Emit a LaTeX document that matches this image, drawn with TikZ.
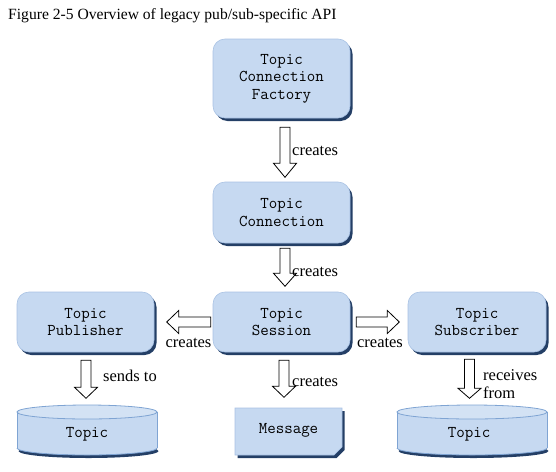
\documentclass[tikz,border=0pt]{standalone}
\usepackage{fontspec}
\setmainfont{Liberation Serif}
\usetikzlibrary{shadows,calc}
\definecolor{boxfill}{HTML}{C6D9F1}
\definecolor{boxline}{HTML}{A9C2E4}
\definecolor{shadowc}{HTML}{243F66}
\definecolor{cylline}{HTML}{7FA4D3}
\definecolor{cyltop}{HTML}{D3E2F4}
\begin{document}
\begin{tikzpicture}[x=1pt,y=-1pt,
  box/.style={rounded corners=12pt, fill=boxfill, draw=boxline, line width=0.6pt,
    minimum width=137pt, inner sep=0pt, align=center,
    font=\ttfamily\fontsize{16.5}{17.5}\selectfont,
    drop shadow={shadow xshift=2.5pt, shadow yshift=-3pt, fill=shadowc, opacity=1}},
  monotext/.style={inner sep=0pt, font=\ttfamily\fontsize{16.5}{17.5}\selectfont},
  lbl/.style={inner sep=0pt, font=\fontsize{16.5}{17}\selectfont},
  blockarr/.style={draw=black, fill=white, line width=0.8pt, line join=miter},
  pics/darr/.style args={#1/#2}{code={
    \draw[blockarr] (-5,0) -- (5,0) -- (5,#1-#2) -- (11.5,#1-#2) -- (0,#1)
      -- (-11.5,#1-#2) -- (-5,#1-#2) -- cycle;}}
]
\useasboundingbox (0,0) rectangle (556,471);

% title
\node[anchor=base west, inner sep=0pt, font=\fontsize{15.6}{17}\selectfont] (title) at (8,19)
  {Figure 2-5 Overview of legacy pub/sub-specific API};

% boxes
\node[box, minimum height=79pt] (tcf) at (281.5,78.5) {Topic\\Connection\\Factory};
\node[box, minimum height=61pt] (tc) at (281.5,212.5) {Topic\\Connection};
\node[box, minimum height=60pt] (ts) at (281.5,322) {Topic\\Session};
\node[box, minimum height=60pt] (tp) at (85.5,322) {Topic\\Publisher};
\node[box, minimum height=60pt, minimum width=138pt] (tsub) at (477,322) {Topic\\Subscriber};

% block arrows
\pic at ($(tcf.south)+(3.5,9)$) {darr=50/14};
\pic at ($(tc.south)+(3.5,5)$) {darr=38/13};
\pic[rotate=-90] at ($(ts.west)+(-2,0)$) {darr=44/12};
\pic[rotate=90] at ($(ts.east)+(6,0)$) {darr=43/12};
\pic at ($(tp.south)+(0.5,8)$) {darr=38/11};
\pic at ($(ts.south)+(2.5,8)$) {darr=37/11};
\pic at ($(tsub.south)+(-7.5,7)$) {darr=39/10};

% labels
\node[lbl, anchor=base west] (c1) at (292,155) {creates};
\node[lbl, anchor=base west] (c2) at (292,276) {creates};
\node[lbl, anchor=base] (c3) at (188.5,347) {creates};
\node[lbl, anchor=base] (c4) at (380,347) {creates};
\node[lbl, anchor=base west] (c5) at (103,381) {sends to};
\node[lbl, anchor=base west] (c6) at (292,386) {creates};
\node[lbl, anchor=base west] (c7) at (483,380) {receives};
\node[lbl, anchor=base west] (c8) at (483,398) {from};

% left cylinder
\fill[shadowc] (88.5,451) ellipse [x radius=70, y radius=7];
\fill[boxfill] (17,412) rectangle (157,448);
\fill[boxfill] (87,448) ellipse [x radius=70, y radius=7];
\draw[cylline, line width=0.8pt] (17,412) -- (17,448) (157,412) -- (157,448);
\begin{scope}
  \clip (14,448) rectangle (160,460);
  \draw[cylline, line width=0.8pt] (87,448) ellipse [x radius=70, y radius=7];
\end{scope}
\filldraw[fill=cyltop, draw=cylline, line width=0.8pt] (87,412) ellipse [x radius=70, y radius=7];
\node[monotext] (topic1) at (87,434) {Topic};

% right cylinder
\fill[shadowc] (473.5,451) ellipse [x radius=75, y radius=7];
\fill[boxfill] (397,412) rectangle (547,448);
\fill[boxfill] (472,448) ellipse [x radius=75, y radius=7];
\draw[cylline, line width=0.8pt] (397,412) -- (397,448) (547,412) -- (547,448);
\begin{scope}
  \clip (394,448) rectangle (550,460);
  \draw[cylline, line width=0.8pt] (472,448) ellipse [x radius=75, y radius=7];
\end{scope}
\filldraw[fill=cyltop, draw=cylline, line width=0.8pt] (472,412) ellipse [x radius=75, y radius=7];
\node[monotext] (topic2) at (469,434) {Topic};

% message
\fill[shadowc] (237.5,411) -- (344.5,411) -- (344.5,450) -- (336.5,458) -- (237.5,458) -- cycle;
\filldraw[fill=boxfill, draw=boxline, line width=0.6pt] (235,408) -- (342,408) -- (342,447) -- (334,455) -- (235,455) -- cycle;
\node[monotext] (msg) at (288.5,430) {Message};
\end{tikzpicture}
\end{document}
